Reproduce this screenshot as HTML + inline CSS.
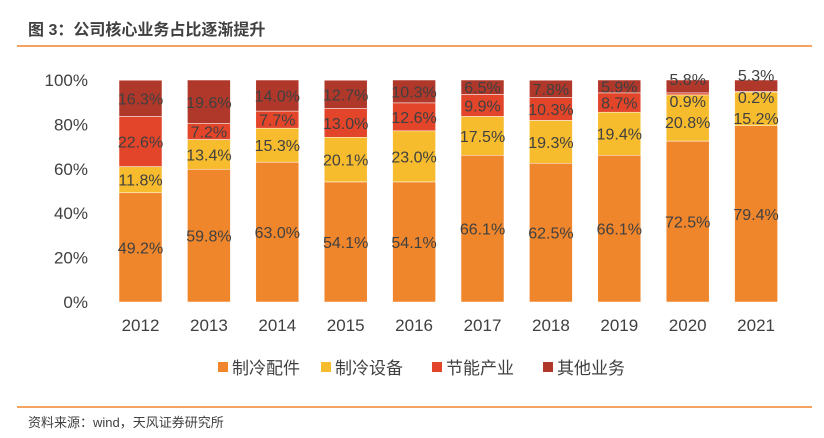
<!DOCTYPE html>
<html><head><meta charset="utf-8"><style>
body{margin:0;background:#fff;font-family:"Liberation Sans","Noto Sans CJK SC",sans-serif;}
#wrap{position:relative;width:824px;height:438px;overflow:hidden;}
</style></head><body><div id="wrap">
<svg id="svg" width="824" height="438">
<text x="28" y="35" font-size="16" font-weight="bold" fill="#404040" font-family="Liberation Sans,Noto Sans CJK SC,sans-serif">图 3：公司核心业务占比逐渐提升</text>
<line x1="17" y1="46" x2="812" y2="46" stroke="#F0862C" stroke-width="1.5"/>
<line x1="17" y1="407" x2="812" y2="407" stroke="#F0862C" stroke-width="1.5"/>
<text x="28" y="427" font-size="13" fill="#404040" font-family="Liberation Sans,Noto Sans CJK SC,sans-serif">资料来源：wind，天风证券研究所</text>
<g id="plot"></g>
</svg></div>
<script>
const years=["2012","2013","2014","2015","2016","2017","2018","2019","2020","2021"];
const parts=[49.2,59.8,63.0,54.1,54.1,66.1,62.5,66.1,72.5,79.4];
const equip=[11.8,13.4,15.3,20.1,23.0,17.5,19.3,19.4,20.8,15.2];
const energy=[22.6,7.2,7.7,13.0,12.6,9.9,10.3,8.7,0.9,0.2];
const other=[16.3,19.6,14.0,12.7,10.3,6.5,7.8,5.9,5.8,5.3];
const seriesNames=["制冷配件","制冷设备","节能产业","其他业务"];
const yTicks=[0,20,40,60,80,100];
const colors=["#F0862C","#F7BC2E","#E2452A","#B0382A"];
const NS="http://www.w3.org/2000/svg";
const g=document.getElementById('plot');
const y=v=>302-v*2.22;
const x=i=>140.5+i*68.4;
function mk(t,a){const e=document.createElementNS(NS,t);for(const k in a)e.setAttribute(k,a[k]);g.appendChild(e);return e;}
yTicks.forEach(t=>{const e=mk('text',{x:88,y:y(t)+6,'font-size':17,fill:'#404040','text-anchor':'end'});e.textContent=t+'%';

});
const data=[parts,equip,energy,other];
years.forEach((yr,i)=>{
 let base=0;
 const over=i>=8;
 data.forEach((s,k)=>{
  const v=s[i];let top=Math.min(base+v,100);
  const r=mk('rect',{x:x(i)-21.5,y:y(top),width:43,height:Math.max(0,y(base)-y(top)),fill:colors[k],stroke:'#fff','stroke-width':0.5});
  
  
  let ly=(y(base)+y(top))/2+6;
  const off=i===9?-4:0;
  if(over&&k===3)ly=y(100)+5+off;
  if(over&&k===2)ly=y(100)+27+off;
  if(over&&k===1)ly=y(100)+48+off;
  const t=mk('text',{x:x(i),y:ly,'font-size':16,fill:'#404040','text-anchor':'middle'});
  t.textContent=v.toFixed(1)+'%';
  
  
  base+=v;
 });
 const t=mk('text',{x:x(i),y:331,'font-size':17,fill:'#404040','text-anchor':'middle'});t.textContent=yr;
 
 
});
const lx=[218,321,432,543];
seriesNames.forEach((n,k)=>{
 const r=mk('rect',{x:lx[k],y:362,width:10,height:10,fill:colors[k]});
 
 
 const t=mk('text',{x:lx[k]+14,y:374,'font-size':17,fill:'#404040'});t.textContent=n;
 
 
});
</script></body></html>
